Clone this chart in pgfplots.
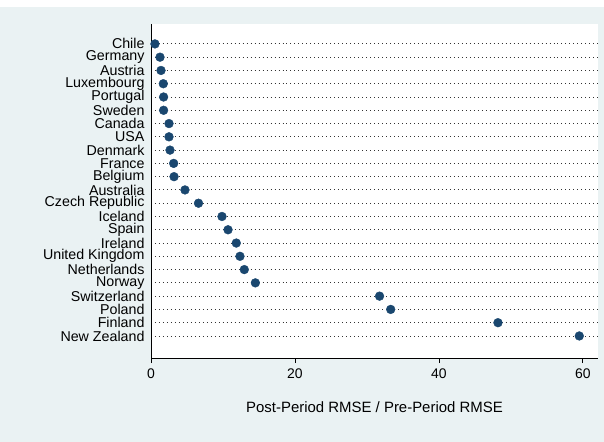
\documentclass[border=0pt]{standalone}
\usepackage{pgfplots}
\pgfplotsset{compat=1.18}
\usepackage{fontspec}
\setmainfont{Liberation Sans}
\definecolor{stbg}{HTML}{EAF2F3}
\definecolor{stnavy}{HTML}{1A476F}
\begin{document}
\begin{tikzpicture}[x=1bp,y=1bp]
\useasboundingbox (0,0) rectangle (604,442);
\fill[white] (0,0) rectangle (604,442);
\fill[stbg] (0,0) rectangle (604,435);
\begin{axis}[
  at={(151bp,84bp)}, anchor=south west,
  scale only axis, width=447bp, height=334bp,
  axis background/.style={fill=white},
  axis x line*=bottom, axis y line*=left,
  axis line style={black, line width=0.8pt},
  xmin=0, xmax=62.1,
  ymin=-1.5, ymax=23.66, y dir=reverse,
  xtick={0,20,40,60},
  ytick={0,...,22},
  yticklabels={Chile,Germany,Austria,Luxembourg,Portugal,Sweden,Canada,USA,Denmark,France,Belgium,Australia,Czech Republic,Iceland,Spain,Ireland,United Kingdom,Netherlands,Norway,Switzerland,Poland,Finland,New Zealand},
  tick align=outside,
  major tick length=5bp,
  xtick style={black, line width=0.8pt},
  ytick style={draw=none},
  ymajorgrids,
  grid style={black!80, line width=0.9pt, dash pattern=on 0.9pt off 3.1pt},
  yticklabel style={font=\fontsize{14.3}{14}\selectfont, xshift=2bp, inner ysep=0pt},
  xticklabel style={font=\fontsize{14}{15}\selectfont, yshift=-2bp},
  /pgf/number format/assume math mode=true,
  xlabel={Post-Period RMSE / Pre-Period RMSE},
  xlabel style={font=\fontsize{15}{16}\selectfont, yshift=-16bp},
  clip=false,
]
\addplot[only marks, mark=*, mark size=4.4bp, mark options={fill=stnavy, draw=stnavy}] coordinates {
(0.55,0) (1.25,1) (1.39,2) (1.71,3) (1.75,4) (1.75,5) (2.5,6) (2.5,7) (2.64,8) (3.15,9) (3.2,10) (4.72,11)
(6.6,12) (9.86,13) (10.7,14) (11.85,15) (12.36,16) (12.96,17) (14.5,18) (31.75,19) (33.3,20) (48.2,21) (59.5,22)
};
\end{axis}
\end{tikzpicture}
\end{document}
